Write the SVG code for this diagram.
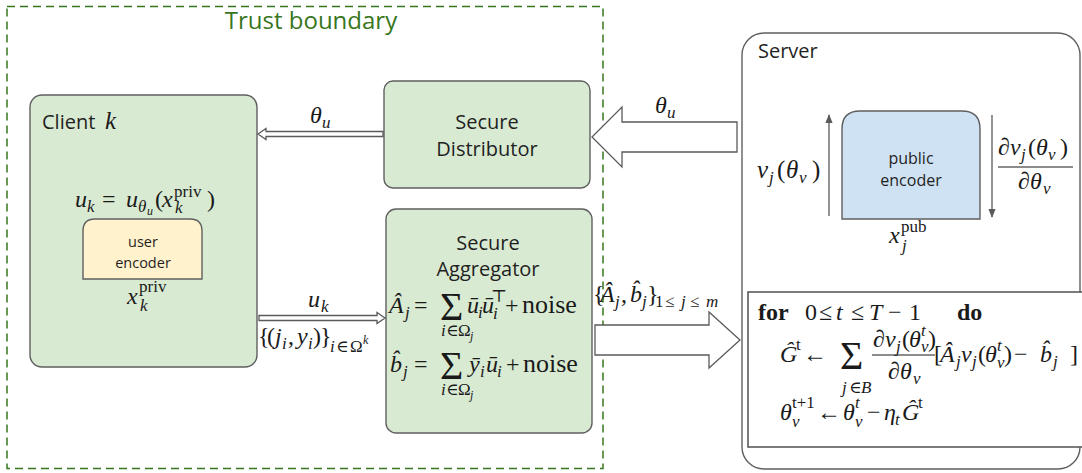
<svg xmlns="http://www.w3.org/2000/svg" width="1082" height="473" viewBox="0 0 1082 473">
  <style>
    .box { fill: #d9ead3; stroke: #5f5f5f; stroke-width: 1.4; }
    .sans { font-family: "Open Sans", Roboto, "Liberation Sans", sans-serif; fill: #1f1f1f; }
    .lbl { font-family: "Open Sans", Roboto, "Liberation Sans", sans-serif; fill: #1f1f1f; text-anchor: middle; }
    .m { font-family: "Liberation Serif", "DejaVu Serif", serif; font-style: italic; font-size: 24px; fill: #1a1a1a; }
    .r { font-style: normal; }
    .s { font-size: 17px; }
    .ss { font-size: 12px; }
    .bf { font-weight: bold; font-style: normal; }
    .sum { font-family: "Liberation Serif", "DejaVu Serif", serif; font-style: normal; font-size: 40px; fill: #1a1a1a; }
    .hollow { fill: #ffffff; stroke: #5a5a5a; stroke-width: 1.3; }
    .thin { fill: none; stroke: #5a5a5a; stroke-width: 1.3; }
  </style>
  <defs>
    <marker id="head" viewBox="0 0 10 10" refX="9" refY="5" markerWidth="7" markerHeight="7" orient="auto">
      <path d="M0,1 L10,5 L0,9 Z" fill="#5a5a5a"/>
    </marker>
  </defs>

  <rect width="1082" height="473" fill="#ffffff"/>

  <!-- trust boundary -->
  <g id="trust-boundary">
    <rect x="7" y="6.5" width="596" height="462" fill="none" stroke="#38761d" stroke-width="1.5" stroke-dasharray="8 5"/>
    <text x="311" y="29" style="font-family: 'Open Sans', Roboto, 'Liberation Sans', sans-serif; font-size: 24px; fill: #38761d; text-anchor: middle;">Trust boundary</text>
  </g>

  <!-- client -->
  <g id="client">
    <rect class="box" x="30" y="95" width="227" height="272" rx="12"/>
    <text class="sans" x="42" y="129" style="font-size: 20px;">Client</text>
    <text class="m" x="105" y="129" style="font-size: 25px;">k</text>
    <text class="m" y="207" style="font-size: 24px;"><tspan x="75">u</tspan><tspan class="s" x="87" y="212">k</tspan><tspan class="r" x="102" y="207">=</tspan><tspan x="126">u</tspan><tspan class="s" x="138" y="212">θ</tspan><tspan class="ss" x="147" y="215">u</tspan><tspan class="r" x="155" y="207">(</tspan><tspan x="162">x</tspan><tspan class="s r" x="174" y="197">priv</tspan><tspan class="s" x="175" y="213">k</tspan><tspan class="r" x="207" y="207">)</tspan></text>
  </g>

  <g id="user-encoder">
    <path d="M83,279 L83,231 Q83,219 95,219 L190,219 Q202,219 202,231 L202,279 Z" fill="#fff2cc" stroke="#5f5f5f" stroke-width="1.4"/>
    <text class="lbl" x="143" y="247" style="font-size: 14.5px;">user</text>
    <text class="lbl" x="143" y="268" style="font-size: 14.5px;">encoder</text>
    <text class="m" y="304"><tspan x="127">x</tspan><tspan class="s r" x="139" y="292">priv</tspan><tspan class="s" x="140" y="311">k</tspan></text>
  </g>

  <!-- secure distributor -->
  <g id="secure-distributor">
    <rect class="box" x="384" y="81" width="206" height="107" rx="9"/>
    <text class="lbl" x="487" y="129" style="font-size: 20px;">Secure</text>
    <text class="lbl" x="487" y="156" style="font-size: 20px;">Distributor</text>
  </g>

  <!-- secure aggregator -->
  <g id="secure-aggregator">
    <rect class="box" x="386" y="209" width="206" height="224" rx="10"/>
    <text class="lbl" x="488" y="250" style="font-size: 20px;">Secure</text>
    <text class="lbl" x="488" y="276" style="font-size: 20px;">Aggregator</text>
    <text class="m" y="313"><tspan x="389">Â</tspan><tspan class="s" x="405" y="318">j</tspan><tspan class="r" x="414" y="313">=</tspan><tspan x="467" y="313">ū</tspan><tspan class="s" x="478" y="318">i</tspan><tspan x="482" y="313">ū</tspan><tspan class="s" x="493" y="319">i</tspan><tspan class="s r" x="491" y="302">⊤</tspan><tspan class="r" x="505" y="313">+</tspan><tspan class="r" x="522" y="313" style="font-size: 26px;">noise</tspan></text>
    <text class="sum" x="440" y="320">Σ</text>
    <text class="m s" y="336"><tspan x="441">i</tspan><tspan class="r" x="446">∈</tspan><tspan class="r" x="458">Ω</tspan><tspan class="ss" x="470" y="340">j</tspan></text>
    <text class="m" y="372"><tspan x="390">b̂</tspan><tspan class="s" x="403" y="377">j</tspan><tspan class="r" x="414" y="372">=</tspan><tspan x="469" y="372">ȳ</tspan><tspan class="s" x="480" y="377">i</tspan><tspan x="486" y="372">ū</tspan><tspan class="s" x="497" y="377">i</tspan><tspan class="r" x="506" y="372">+</tspan><tspan class="r" x="523" y="372" style="font-size: 26px;">noise</tspan></text>
    <text class="sum" x="440" y="379">Σ</text>
    <text class="m s" y="395"><tspan x="441">i</tspan><tspan class="r" x="446">∈</tspan><tspan class="r" x="458">Ω</tspan><tspan class="ss" x="470" y="399">j</tspan></text>
  </g>

  <!-- server -->
  <g id="server">
    <rect x="742" y="33" width="338" height="436" rx="22" fill="#ffffff" stroke="#5f5f5f" stroke-width="1.4"/>
    <text class="sans" x="758" y="58" style="font-size: 20px;">Server</text>
    <!-- forward output v_j and its gradient -->
    <text class="m" y="178" style="font-size: 25px;"><tspan x="757">v</tspan><tspan class="s" x="769" y="183">j</tspan><tspan class="r" x="777" y="178">(</tspan><tspan x="786">θ</tspan><tspan class="s" x="799" y="183">v</tspan><tspan class="r" x="812" y="178">)</tspan></text>
    <text class="m" y="155"><tspan class="r" x="998">∂</tspan><tspan x="1010">v</tspan><tspan class="s" x="1021" y="160">j</tspan><tspan class="r" x="1028" y="155">(</tspan><tspan x="1036">θ</tspan><tspan class="s" x="1048" y="160">v</tspan><tspan class="r" x="1060" y="155">)</tspan></text>
    <line x1="998" y1="167" x2="1073" y2="167" stroke="#1a1a1a" stroke-width="1"/>
    <text class="m" y="189"><tspan class="r" x="1018">∂</tspan><tspan x="1030">θ</tspan><tspan class="s" x="1043" y="194">v</tspan></text>
  </g>

  <g id="public-encoder">
    <path d="M842,219 L842,129 Q842,111 860,111 L962,111 Q980,111 980,129 L980,219 Z" fill="#cfe2f3" stroke="#5f5f5f" stroke-width="1.4"/>
    <text class="lbl" x="911" y="164" style="font-size: 16px;">public</text>
    <text class="lbl" x="911" y="186" style="font-size: 16px;">encoder</text>
    <text class="m" y="243"><tspan x="889">x</tspan><tspan class="s r" x="901" y="232">pub</tspan><tspan class="s" x="902" y="251">j</tspan></text>
  </g>

  <!-- local training loop -->
  <g id="training-loop">
    <rect x="748" y="292" width="340" height="155" fill="#ffffff" stroke="#5a5a5a" stroke-width="1.6"/>
    <text class="m" y="320"><tspan class="bf" x="758">for</tspan><tspan class="r" x="805">0</tspan><tspan class="r" x="819">≤</tspan><tspan x="836">t</tspan><tspan class="r" x="851">≤</tspan><tspan x="869">T</tspan><tspan class="r" x="888">−</tspan><tspan class="r" x="909">1</tspan><tspan class="bf" x="957">do</tspan></text>
    <text class="m" y="362"><tspan x="780">Ĝ</tspan><tspan class="s r" x="796" y="350">t</tspan><tspan class="r" x="803" y="362">←</tspan><tspan x="934" class="r" y="362">[</tspan><tspan x="940">Â</tspan><tspan class="s" x="956" y="367">j</tspan><tspan x="961" y="362">v</tspan><tspan class="s" x="972" y="367">j</tspan><tspan class="r" x="978" y="362">(</tspan><tspan x="985">θ</tspan><tspan class="s" x="997" y="368">v</tspan><tspan class="s" x="997" y="351">t</tspan><tspan class="r" x="1004" y="362">)</tspan><tspan class="r" x="1014">−</tspan><tspan x="1040">b̂</tspan><tspan class="s" x="1053" y="367">j</tspan><tspan class="r" x="1070" y="362">]</tspan></text>
    <text class="sum" x="840" y="369">Σ</text>
    <text class="m s" y="393"><tspan x="842">j</tspan><tspan class="r" x="849">∈</tspan><tspan x="861">B</tspan></text>
    <text class="m" y="347"><tspan class="r" x="873">∂</tspan><tspan x="885">v</tspan><tspan class="s" x="896" y="352">j</tspan><tspan class="r" x="902" y="347">(</tspan><tspan x="909">θ</tspan><tspan class="s" x="921" y="352">v</tspan><tspan class="s" x="921" y="336">t</tspan><tspan class="r" x="928" y="347">)</tspan></text>
    <line x1="872" y1="355" x2="935" y2="355" stroke="#1a1a1a" stroke-width="1"/>
    <text class="m" y="379"><tspan class="r" x="888">∂</tspan><tspan x="900">θ</tspan><tspan class="s" x="913" y="384">v</tspan></text>
    <text class="m" y="420"><tspan x="780">θ</tspan><tspan class="s r" x="792" y="408">t+1</tspan><tspan class="s" x="792" y="427">v</tspan><tspan class="r" x="817" y="420">←</tspan><tspan x="843">θ</tspan><tspan class="s" x="855" y="408">t</tspan><tspan class="s" x="855" y="427">v</tspan><tspan class="r" x="867" y="420">−</tspan><tspan x="884">η</tspan><tspan class="s" x="895" y="425">t</tspan><tspan x="902" y="420">Ĝ</tspan><tspan class="s r" x="918" y="408">t</tspan></text>
  </g>

  <!-- connectors -->
  <g id="connectors">
    <!-- distributor to client -->
    <polygon class="hollow" points="383,131.5 266,131.5 266,128.5 258,134 266,139.5 266,136.5 383,136.5"/>
    <text class="m" y="123"><tspan x="310">θ</tspan><tspan class="s" x="322" y="128">u</tspan></text>
    <!-- client to aggregator -->
    <polygon class="hollow" points="259,315.5 377,315.5 377,312.5 385,318 377,323.5 377,320.5 259,320.5"/>
    <text class="m" y="307"><tspan x="308">u</tspan><tspan class="s" x="321" y="312">k</tspan></text>
    <text class="m" y="344"><tspan class="r" x="258">{</tspan><tspan class="r" x="267">(</tspan><tspan x="275">j</tspan><tspan class="s" x="282" y="349">i</tspan><tspan class="r" x="288" y="344">,</tspan><tspan x="297">y</tspan><tspan class="s" x="308" y="349">i</tspan><tspan class="r" x="313" y="344">)</tspan><tspan class="r" x="320">}</tspan><tspan class="s" x="330" y="352">i</tspan><tspan class="s r" x="336" y="352">∈</tspan><tspan class="s r" x="350" y="352">Ω</tspan><tspan class="ss" x="363" y="344">k</tspan></text>
    <!-- server to distributor -->
    <polygon class="hollow" points="737,122 622,122 622,107 592,137 622,167 622,152 737,152"/>
    <text class="m" y="113"><tspan x="655">θ</tspan><tspan class="s" x="667" y="118">u</tspan></text>
    <!-- aggregator to server -->
    <polygon class="hollow" points="595,325 709,325 709,312 740,340 709,368 709,355 595,355"/>
    <text class="m" y="302"><tspan class="r" x="593">{</tspan><tspan x="600">Â</tspan><tspan class="s" x="615" y="307">j</tspan><tspan class="r" x="621" y="302">,</tspan><tspan x="630">b̂</tspan><tspan class="s" x="642" y="307">j</tspan><tspan class="r" x="647" y="302">}</tspan><tspan class="s r" x="655" y="307">1</tspan><tspan class="s r" x="665">≤</tspan><tspan class="s" x="681">j</tspan><tspan class="s r" x="690">≤</tspan><tspan class="s" x="706">m</tspan></text>
    <!-- encoder forward / backward -->
    <line class="thin" x1="829" y1="216" x2="829" y2="115" marker-end="url(#head)"/>
    <line class="thin" x1="992" y1="115" x2="992" y2="217" marker-end="url(#head)"/>
  </g>
</svg>
